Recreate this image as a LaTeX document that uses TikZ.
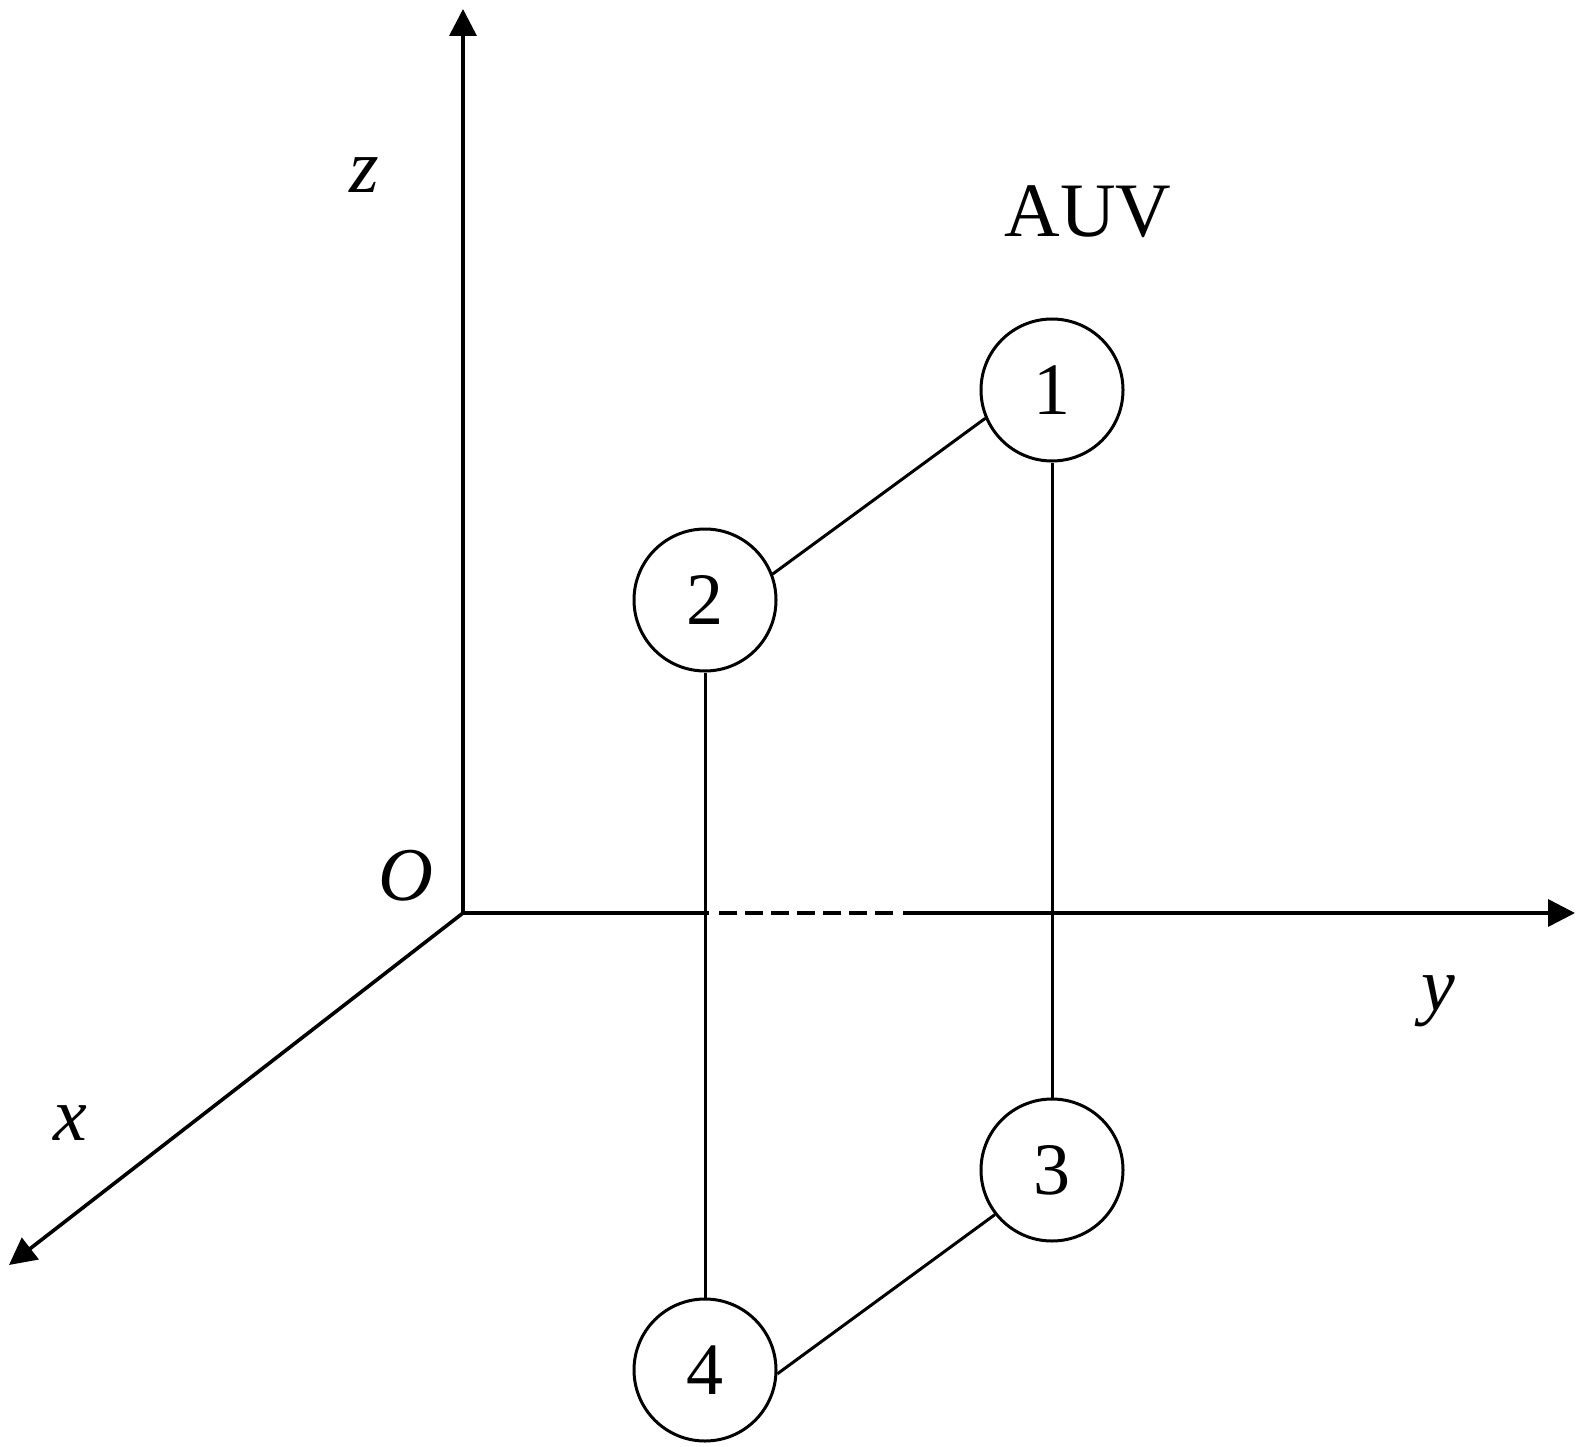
\documentclass[tikz,border=0pt]{standalone}
\usepackage{fontspec}
\setmainfont{LiberationSerif}[Extension=.ttf,UprightFont=*-Regular,ItalicFont=*-Italic,BoldFont=*-Bold]
\usetikzlibrary{arrows.meta}
\begin{document}
\begin{tikzpicture}[x=1pt,y=-1pt,
  axis/.style={line width=3.6pt,-{Triangle[length=27pt,width=27pt]}},
  axisplain/.style={line width=3.6pt},
  auv/.style={circle,draw,line width=3pt,minimum size=142pt,inner sep=0pt,
    font=\fontsize{74}{80}\selectfont},
  link/.style={line width=3pt},
  lbl/.style={anchor=base,inner sep=0pt,font=\fontsize{76}{80}\selectfont\itshape}]
\useasboundingbox (0,0) rectangle (1585,1447);
% axes
\coordinate (O) at (463,913);
\coordinate (ztip) at (463,9);
\coordinate (ytip) at (1575,913);
\coordinate (xtip) at (9,1265);
\coordinate (ya) at (707,913);
\coordinate (yb) at (719,913);
\coordinate (yc) at (895,913);
\coordinate (yd) at (903,913);
\draw[axis] (O) -- (ztip);
\draw[axis] (O) -- (xtip);
\draw[axisplain,line cap=rect] (O) -- (ya);
\draw[axisplain,dash pattern=on 18pt off 8pt] (yb) -- (yc);
\draw[axis] (yd) -- (ytip);
% labels
\node[lbl] (lz) at (364,193) {z};
\node[lbl] (lO) at (406,900) {O};
\node[lbl] (ly) at (1438,1010) {y};
\node[lbl] (lx) at (70,1140) {x};
\node[anchor=base,inner sep=0pt,font=\fontsize{77}{80}\selectfont] (lauv) at (1088,237) {AUV};
% vehicles
\node[auv] (c1) at (1052,390) {1};
\node[auv] (c2) at (705,600) {2};
\node[auv] (c3) at (1052,1170) {3};
\node[auv] (c4) at (705,1370) {4};
\draw[link] (c1.203) -- (c2.21);
\draw[link] (c1.south) -- (c3.north);
\draw[link] (c2.south) -- (c4.north);
\draw[link] (c3.218) -- (c4.-3);
\end{tikzpicture}
\end{document}
